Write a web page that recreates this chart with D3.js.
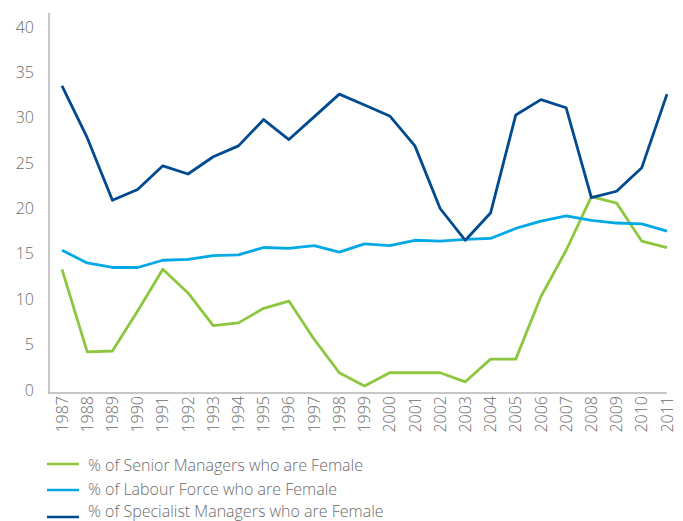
<!DOCTYPE html>
<html>
<head>
<meta charset="utf-8">
<script src="https://cdn.jsdelivr.net/npm/d3@7"></script>
<style>
    body { margin: 0; background: #fff; }
    text { font-family: "Open Sans", sans-serif; font-weight: 300; fill: #6b6b6b; }
</style>
</head>
<body>
<div id="chart"></div>
<script>
const years = d3.range(1987, 2012);
const yTicks = [0, 5, 10, 15, 20, 25, 30, 35, 40];

const seniorManagers = [13.3, 4.2, 4.3, 8.7, 13.3, 10.7, 7.1, 7.4, 9.0, 9.8, 5.6, 1.9, 0.45, 1.9, 1.9, 1.9, 0.9, 3.4, 3.4, 10.3, 15.4, 21.3, 20.6, 16.4, 15.7];
const labourForce = [15.4, 14.0, 13.5, 13.5, 14.3, 14.4, 14.8, 14.9, 15.7, 15.6, 15.9, 15.2, 16.1, 15.9, 16.5, 16.4, 16.6, 16.7, 17.8, 18.6, 19.2, 18.7, 18.4, 18.3, 17.5];
const specialistManagers = [33.5, 27.8, 20.9, 22.1, 24.7, 23.8, 25.7, 26.9, 29.8, 27.6, 30.1, 32.6, 31.4, 30.2, 26.9, 20.0, 16.5, 19.5, 30.3, 32.0, 31.1, 21.2, 21.9, 24.5, 32.6];

const seriesNames = [
    "% of Senior Managers who are Female",
    "% of Labour Force who are Female",
    "% of Specialist Managers who are Female"
];
const seriesColors = ["#8dc63f", "#00a9e6", "#004a8f"];
const seriesData = [seniorManagers, labourForce, specialistManagers];

const width = 683, height = 521;

const x = d3.scaleLinear()
    .domain([1987, 2011])
    .range([62, 667]);
const y = d3.scaleLinear()
    .domain([0, 40])
    .range([390, 27]);

const svg = d3.select("#chart")
    .append("svg")
    .attr("width", width)
    .attr("height", height);

// axes lines
svg.append("line")
    .attr("x1", 49).attr("x2", 49)
    .attr("y1", 13).attr("y2", 393)
    .attr("stroke", "#b5b5b5").attr("stroke-width", 1.5);
svg.append("line")
    .attr("x1", 48).attr("x2", 667)
    .attr("y1", 393).attr("y2", 393)
    .attr("stroke", "#b5b5b5").attr("stroke-width", 1.5);

// y labels
svg.selectAll(".ylab")
    .data(yTicks)
    .join("text")
    .attr("class", "ylab")
    .attr("x", 34)
    .attr("y", d => y(d))
    .attr("dy", "0.35em")
    .attr("text-anchor", "end")
    .style("font-size", "16px")
    .text(d => d);

// x labels, rotated
svg.selectAll(".xlab")
    .data(years)
    .join("text")
    .attr("class", "xlab")
    .attr("transform", d => "translate(" + x(d) + ",396) rotate(-90)")
    .attr("dy", "0.35em")
    .attr("text-anchor", "end")
    .style("font-size", "16px")
    .text(d => d);

const line = d3.line()
    .x((d, i) => x(years[i]))
    .y(d => y(d));

svg.selectAll(".series")
    .data(seriesData)
    .join("path")
    .attr("class", "series")
    .attr("fill", "none")
    .attr("stroke", (d, i) => seriesColors[i])
    .attr("stroke-width", 2.8)
    .attr("stroke-linejoin", "round")
    .attr("d", line);

// legend
const legendTextY = [465, 489, 511];
const legendLineY = [464, 490, 517];
const legend = svg.selectAll(".legend")
    .data(seriesNames)
    .join("g")
    .attr("class", "legend");
legend.append("line")
    .attr("x1", 47).attr("x2", 79)
    .attr("y1", (d, i) => legendLineY[i])
    .attr("y2", (d, i) => legendLineY[i])
    .attr("stroke", (d, i) => seriesColors[i])
    .attr("stroke-width", 2.5);
legend.append("text")
    .attr("x", 88)
    .attr("y", (d, i) => legendTextY[i])
    .attr("dy", "0.35em")
    .style("font-size", "16px")
    .text(d => d);
</script>
</body>
</html>
